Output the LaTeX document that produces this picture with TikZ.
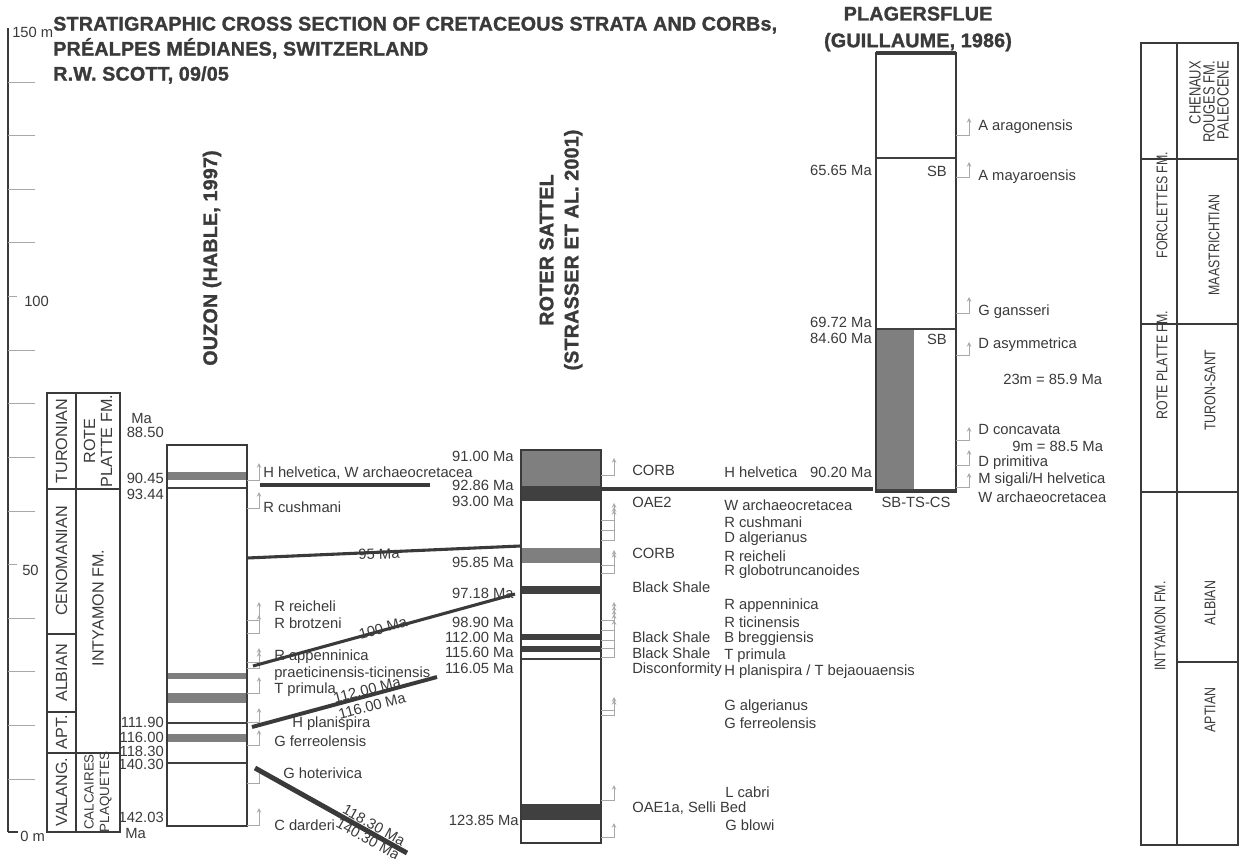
\documentclass[tikz,border=0pt]{standalone}
\usepackage{fontspec}
\setmainfont{Liberation Sans}
\newfontfamily\narrowfont[FakeStretch=0.8]{Liberation Sans}
\newfontfamily\heavyfont[FakeBold=1.4, LetterSpace=1]{Liberation Sans}
\usepackage{tikz}
\usetikzlibrary{shapes,arrows,positioning}
\usepackage{xcolor}
\definecolor{ink}{HTML}{3A3A3A}
\definecolor{band}{HTML}{7F7F80}
\definecolor{shale}{HTML}{404040}
\definecolor{tickgray}{HTML}{A8A8A8}
\tikzstyle{txt} = [font=\fontsize{10.5}{12}\selectfont, text=ink, inner sep=0pt]
\tikzstyle{age} = [txt, anchor=east]
\tikzstyle{fossil} = [txt, anchor=west]
\tikzstyle{heading} = [font=\heavyfont\bfseries\fontsize{14}{17.8}\selectfont, text=ink, inner sep=0pt]
\tikzstyle{cell} = [font=\narrowfont\fontsize{11}{12}\selectfont, text=ink,
    rotate=90, align=center, inner sep=0pt]
\tikzstyle{stage} = [font=\fontsize{11.5}{12}\selectfont, text=ink,
    rotate=90, align=center, inner sep=0pt]
\tikzstyle{column} = [rectangle, draw=ink, line width=1.2pt, minimum width=2cm, inner sep=0pt]
\tikzstyle{grid} = [draw=ink, line width=0.8pt]
\tikzstyle{corr} = [draw=ink, line width=2.2pt]
\tikzstyle{marker} = [->, >=stealth, draw=tickgray, line width=0.5pt]
\tikzstyle{tickline} = [draw=tickgray, line width=0.6pt]

\begin{document}
\begin{tikzpicture}[x=0.025cm, y=-0.025cm]
    \useasboundingbox (0,0) rectangle (1241,858);
    % Scale bar
    \draw [ink, line width=1pt] (8,28) -- (8,832);
    \foreach \y in {82,135,189,242,350,403,457,511,618,671,725,779}
        \draw [tickline] (8,\y) -- (35,\y);
    \draw [tickline] (8,296) -- (17,296);
    \draw [tickline] (8,564) -- (17,564);
    \draw [ink, line width=1pt] (8,832) -- (18,832);
    \node [txt, anchor=west] (s150) at (12,32) {150 m};
    \node [txt, anchor=west] (s100) at (24,301) {100};
    \node [txt, anchor=west] (s50) at (22,570) {50};
    \node [txt, anchor=west] (s0) at (20,836) {0 m};

    % Titles
    \node [heading, anchor=north west, align=left] (title) at (53,16.5)
        {STRATIGRAPHIC CROSS SECTION OF CRETACEOUS STRATA AND CORBs,\\
         PRÉALPES MÉDIANES, SWITZERLAND\\
         R.W. SCOTT, 09/05};
    \node [heading, align=center, font=\heavyfont\bfseries\fontsize{14}{19}\selectfont] (plagtitle) at (918,29)
        {PLAGERSFLUE\\(GUILLAUME, 1986)};
    \node [heading, rotate=90] (ouzontitle) at (212,258) {OUZON (HABLE, 1997)};
    \node [heading, rotate=90, align=center] (rotertitle) at (561,250)
        {ROTER SATTEL\\(STRASSER ET AL. 2001)};

    % Left stage table
    \draw [grid] (47,393) rectangle (120,832);
    \draw [grid] (76,393) -- (76,832);
    \draw [grid] (47,489) -- (120,489);
    \draw [grid] (47,634) -- (76,634);
    \draw [grid] (47,712) -- (76,712);
    \draw [grid] (47,753) -- (120,753);
    \node [stage] (turonian) at (61.5,441) {TURONIAN};
    \node [stage] (roteplatte) at (98,441) {ROTE\\PLATTE FM.};
    \node [stage] (cenomanian) at (61.5,561) {CENOMANIAN};
    \node [stage] (intyamon) at (98,608) {INTYAMON FM.};
    \node [stage] (albian) at (61.5,673) {ALBIAN};
    \node [stage] (apt) at (61.5,732) {APT.};
    \node [stage] (valang) at (61.5,792) {VALANG.};
    \node [stage, font=\fontsize{9.5}{11}\selectfont] (calcaires) at (98,792) {CALCAIRES\\PLAQUETES};

    % Ouzon column
    \fill [band] (167,472) rectangle (247,480);
    \draw [shale, line width=2pt] (167,488) -- (247,488);
    \fill [band] (167,673) rectangle (247,679);
    \fill [band] (167,693) rectangle (247,703);
    \draw [shale, line width=2pt] (167,723) -- (247,723);
    \fill [band] (167,734) rectangle (247,742);
    \draw [shale, line width=2pt] (167,763) -- (247,763);
    \node [column, minimum height=9.525cm] (ouzon) at (207,635.5) {};
    \node [txt, anchor=west] (ma1) at (131,418) {Ma};
    \node [age] (o8850) at (164,432) {88.50};
    \node [age] (o9045) at (164,478) {90.45};
    \node [age] (o9344) at (164,494) {93.44};
    \node [age] (o11190) at (164,722) {111.90};
    \node [age] (o11600) at (164,737) {116.00};
    \node [age] (o11830) at (164,751) {118.30};
    \node [age] (o14030) at (164,764) {140.30};
    \node [age] (o14203) at (164,817) {142.03};
    \node [txt, anchor=west] (ma2) at (125,833) {Ma};
    \draw [marker] (247,480) -| (259,463);
    \draw [marker] (247,508) -| (259,492);
    \draw [marker] (247,620) -| (259,602);
    \draw [marker] (247,633) -| (259,615);
    \draw [marker] (247,662) -| (259,648);
    \draw [marker] (247,668) -| (259,652);
    \draw [marker] (247,693) -| (259,677);
    \draw [marker] (247,722) -| (259,708);
    \draw [marker] (247,745) -| (259,730);
    \draw [marker] (247,783) -| (259,767);
    \draw [marker] (247,825) -| (259,808);
    \node [fossil] (ohelv) at (263,473) {H helvetica, W archaeocretacea};
    \node [fossil] (ocush) at (263,507) {R cushmani};
    \node [fossil] (oreich) at (274,606) {R reicheli};
    \node [fossil] (obrotz) at (274,623) {R brotzeni};
    \node [fossil] (oappen) at (274,657) {R appenninica};
    \node [fossil] (opraet) at (274,674) {praeticinensis-ticinensis};
    \node [fossil] (oprim) at (274,690) {T primula};
    \node [fossil] (oplan) at (292,724) {H planispira};
    \node [fossil] (oferr) at (274,741) {G ferreolensis};
    \node [fossil] (ohot) at (283,773) {G hoterivica};
    \node [fossil] (odard) at (274,825) {C darderi};

    % Roter Sattel column
    \fill [band] (521,450) rectangle (601,486);
    \fill [shale] (521,486) rectangle (601,501);
    \fill [band] (521,548) rectangle (601,563);
    \fill [shale] (521,586) rectangle (601,594);
    \fill [shale] (521,634) rectangle (601,640);
    \fill [shale] (521,646) rectangle (601,652);
    \draw [shale, line width=2pt] (521,659) -- (601,659);
    \fill [shale] (521,804) rectangle (601,820);
    \node [column, minimum height=9.825cm] (roter) at (561,646.5) {};
    \node [age] (r9100) at (514,456) {91.00 Ma};
    \node [age] (r9286) at (514,485) {92.86 Ma};
    \node [age] (r9300) at (514,501) {93.00 Ma};
    \node [age] (r9585) at (514,562) {95.85 Ma};
    \node [age] (r9718) at (514,593) {97.18 Ma};
    \node [age] (r9890) at (514,622) {98.90 Ma};
    \node [age] (r11200) at (514,637) {112.00 Ma};
    \node [age] (r11560) at (514,652) {115.60 Ma};
    \node [age] (r11605) at (514,668) {116.05 Ma};
    \node [age] (r12385) at (519,820) {123.85 Ma};
    \draw [marker] (601,475) -| (614,458);
    \draw [marker] (601,520) -| (614,503);
    \draw [marker] (601,530) -| (614,507);
    \draw [marker] (601,540) -| (614,510);
    \draw [marker] (601,565) -| (614,550);
    \draw [marker] (601,573) -| (614,553);
    \draw [marker] (601,620) -| (614,602);
    \draw [marker] (601,630) -| (614,606);
    \draw [marker] (601,640) -| (614,610);
    \draw [marker] (601,648) -| (614,614);
    \draw [marker] (601,657) -| (614,620);
    \draw [marker] (601,710) -| (614,697);
    \draw [marker] (601,715) -| (614,700);
    \draw [marker] (601,800) -| (614,785);
    \draw [marker] (601,837) -| (614,823);
    \node [fossil] (corb1) at (632,470) {CORB};
    \node [fossil] (oae2) at (632,502) {OAE2};
    \node [fossil] (corb2) at (632,553) {CORB};
    \node [fossil] (bshale1) at (632,587) {Black Shale};
    \node [fossil] (bshale2) at (632,637) {Black Shale};
    \node [fossil] (bshale3) at (632,653) {Black Shale};
    \node [fossil] (disconf) at (632,670) {Disconformity};
    \node [fossil] (oae1a) at (632,808) {OAE1a, Selli Bed};
    \node [fossil] (rhelv) at (724,472) {H helvetica};
    \node [fossil] (rarch) at (724,505) {W archaeocretacea};
    \node [fossil] (rcush) at (724,522) {R cushmani};
    \node [fossil] (ralger) at (724,539) {D algerianus};
    \node [fossil] (rreich) at (724,556) {R reicheli};
    \node [fossil] (rglobo) at (724,572) {R globotruncanoides};
    \node [fossil] (rappen) at (724,606) {R appenninica};
    \node [fossil] (rticin) at (724,622) {R ticinensis};
    \node [fossil] (rbregg) at (724,639) {B breggiensis};
    \node [fossil] (rprim) at (724,656) {T primula};
    \node [fossil] (rplan) at (724,672) {H planispira / T bejaouaensis};
    \node [fossil] (rgalg) at (724,707) {G algerianus};
    \node [fossil] (rferr) at (724,723) {G ferreolensis};
    \node [fossil] (rcabri) at (725,792) {L cabri};
    \node [fossil] (rblowi) at (725,825) {G blowi};

    % Plagersflue column
    \fill [band] (876,329) rectangle (914,490);
    \draw [shale, line width=2.2pt] (876,53) -- (956,53);
    \draw [shale, line width=2pt] (876,158) -- (956,158);
    \draw [shale, line width=2pt] (876,329) -- (956,329);
    \draw [shale, line width=3pt] (876,491) -- (956,491);
    \node [column, minimum height=10.975cm] (plager) at (916,272.5) {};
    \node [txt, below=3pt of plager] (sbtscs) {SB-TS-CS};
    \node [age] (p6565) at (872,170) {65.65 Ma};
    \node [age] (p6972) at (872,322) {69.72 Ma};
    \node [age] (p8460) at (872,338) {84.60 Ma};
    \node [age] (p9020) at (872,472) {90.20 Ma};
    \node [age] (sb1) at (947,171) {SB};
    \node [age] (sb2) at (947,339) {SB};
    \draw [marker] (956,135) -| (969,118);
    \draw [marker] (956,177) -| (969,162);
    \draw [marker] (956,313) -| (969,297);
    \draw [marker] (956,355) -| (969,342);
    \draw [marker] (956,440) -| (969,427);
    \draw [marker] (956,465) -| (969,450);
    \draw [marker] (956,487) -| (969,473);
    \node [fossil] (parag) at (978,127) {A aragonensis};
    \node [fossil] (pmaya) at (978,177) {A mayaroensis};
    \node [fossil] (pgans) at (978,312) {G gansseri};
    \node [fossil] (pasym) at (978,345) {D asymmetrica};
    \node [fossil] (p23m) at (1003,379) {23m = 85.9 Ma};
    \node [fossil] (pconc) at (978,429) {D concavata};
    \node [fossil] (p9m) at (1012,446) {9m = 88.5 Ma};
    \node [fossil] (pprim) at (978,463) {D primitiva};
    \node [fossil] (psigali) at (978,480) {M sigali/H helvetica};
    \node [fossil] (parch) at (978,497) {W archaeocretacea};

    % Correlation lines
    \coordinate (ohh) at (260,485);
    \coordinate (rhh) at (430,485);
    \coordinate (o95) at (247,558);
    \coordinate (r95) at (520,546);
    \coordinate (o100) at (253,666);
    \coordinate (r100) at (515,594);
    \coordinate (o112) at (252,727);
    \coordinate (r112) at (437,677);
    \coordinate (o118) at (255,768);
    \coordinate (r118) at (407,853);
    \coordinate (rpl) at (602,489);
    \coordinate (ppl) at (873,489);
    \draw [corr, line width=2.8pt] (ohh) -- (rhh);
    \draw [corr] (o95) -- (r95);
    \draw [corr] (o100) -- (r100);
    \draw [corr, line width=2.8pt] (o112) -- (r112);
    \draw [corr, line width=3.5pt] (o118) -- (r118);
    \draw [corr, line width=2.8pt] (rpl) -- (ppl);
    \node [txt, rotate=2.5] (l95) at (379,554) {95 Ma};
    \node [txt, rotate=15.4] (l100) at (383,628) {100 Ma};
    \node [txt, rotate=15] (l112) at (367,690) {112.00 Ma};
    \node [txt, rotate=15] (l116) at (372,706) {116.00 Ma};
    \node [txt, rotate=-29] (l118) at (374,825) {118.30 Ma};
    \node [txt, rotate=-29] (l140) at (368,839) {140.30 Ma};

    % Right stage table
    \draw [grid] (1141,43) rectangle (1238,845);
    \draw [grid] (1177,43) -- (1177,845);
    \draw [grid] (1141,159) -- (1238,159);
    \draw [grid] (1141,324) -- (1238,324);
    \draw [grid] (1141,492) -- (1238,492);
    \draw [grid] (1177,662) -- (1238,662);
    \node [cell, align=right, font=\narrowfont\fontsize{11.5}{10}\selectfont] (chenaux) at (1209,102)
        {CHENAUX\\ROUGES FM.\\PALEOCENE};
    \node [cell] (forclettes) at (1162,205) {FORCLETTES FM.};
    \node [cell] (maastr) at (1214,245) {MAASTRICHTIAN};
    \node [cell] (roteplatte2) at (1162,365) {ROTE PLATTE FM.};
    \node [cell] (turonsant) at (1210,390) {TURON-SANT};
    \node [cell] (intyamon2) at (1160,626) {INTYAMON FM.};
    \node [cell] (albian2) at (1210,603) {ALBIAN};
    \node [cell] (aptian2) at (1210,710) {APTIAN};
\end{tikzpicture}
\end{document}
